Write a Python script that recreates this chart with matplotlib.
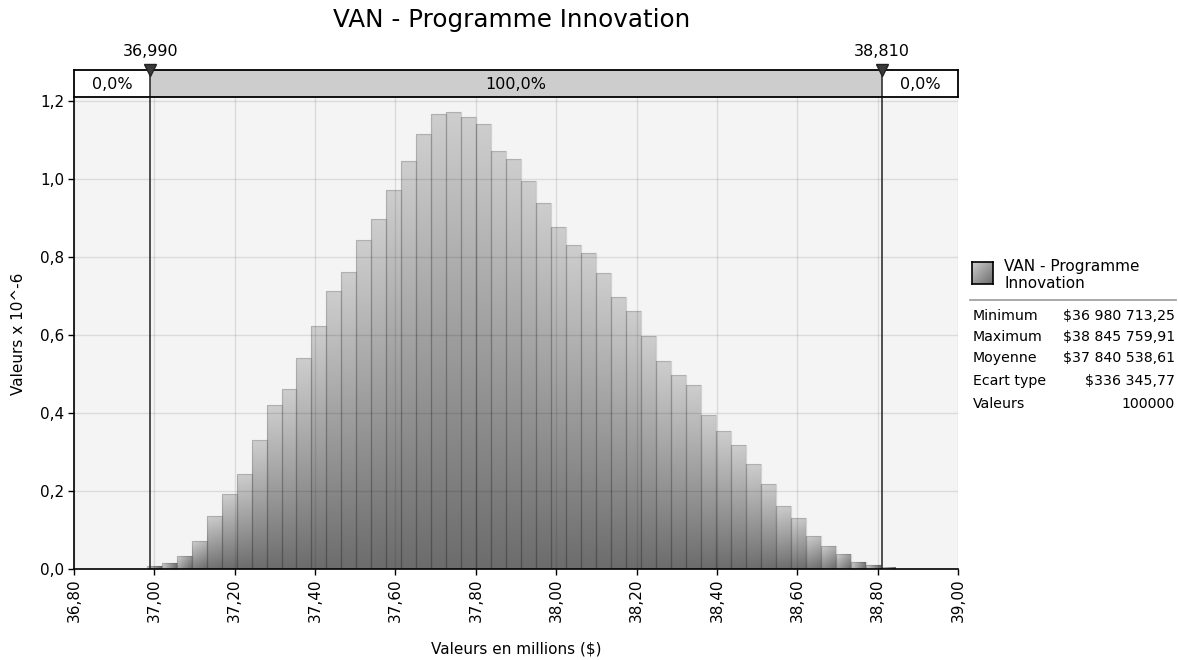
import numpy as np
import matplotlib
matplotlib.use("Agg")
import matplotlib.pyplot as plt
from matplotlib.lines import Line2D

plt.rcParams['font.family'] = ['DejaVu Sans']

# ---- data ----
title = "VAN - Programme Innovation"
x_min_val = 36.9807132
x_max_val = 38.8457599
n_bins = 50
heights = [0.007, 0.015, 0.032, 0.071, 0.135, 0.192, 0.243, 0.330, 0.420, 0.461,
           0.541, 0.623, 0.713, 0.761, 0.843, 0.897, 0.972, 1.046, 1.115, 1.167,
           1.171, 1.159, 1.141, 1.072, 1.051, 0.995, 0.938, 0.877, 0.831, 0.809,
           0.759, 0.697, 0.661, 0.597, 0.533, 0.497, 0.471, 0.394, 0.353, 0.317,
           0.269, 0.217, 0.161, 0.130, 0.084, 0.058, 0.038, 0.017, 0.009, 0.003]
x_ticks = [36.8, 37.0, 37.2, 37.4, 37.6, 37.8, 38.0, 38.2, 38.4, 38.6, 38.8, 39.0]
y_ticks = [0.0, 0.2, 0.4, 0.6, 0.8, 1.0, 1.2]
left_marker = 36.990
right_marker = 38.810
band_labels = ["0,0%", "100,0%", "0,0%"]
stat_names = ["Minimum", "Maximum", "Moyenne", "Ecart type", "Valeurs"]
stat_values = ["$36 980 713,25", "$38 845 759,91", "$37 840 538,61", "$336 345,77", "100000"]
legend_label = "VAN - Programme\nInnovation"

W, H = 1178, 660
fig = plt.figure(figsize=(W / 100, H / 100), dpi=100)

def fx(px):
    return px / W

def fy(py):
    return 1 - py / H

# main axes
ax_l, ax_r, ax_t, ax_b = 74, 958, 98, 568.7
ax = fig.add_axes([fx(ax_l), fy(ax_b), (ax_r - ax_l) / W, (ax_b - ax_t) / H])
ax.set_facecolor('#f4f4f4')
ax.set_xlim(36.8, 39.0)
ax.set_ylim(0, 1.208)
px_per_x = (ax_r - ax_l) / 2.2
px_per_y = (ax_b - ax_t) / 1.208

edges = np.linspace(x_min_val, x_max_val, n_bins + 1)
c_top = np.array([0xce, 0xce, 0xce]) / 255
c_bot = np.array([0x6c, 0x6c, 0x6c]) / 255
for i, h in enumerate(heights):
    x0, x1 = edges[i], edges[i + 1]
    wpx = (x1 - x0) * px_per_x
    hpx = max(h * px_per_y, 1.0)
    nx = 16
    ny = max(2, int(hpx) + 1)
    xx = np.linspace(0, wpx, nx)[None, :]
    yy = np.linspace(0, hpx, ny)[:, None]
    t = (xx * wpx + yy * hpx) / (wpx ** 2 + hpx ** 2)
    t = np.clip(t, 0, 1)
    img = c_top[None, None, :] * (1 - t[..., None]) + c_bot[None, None, :] * t[..., None]
    ax.imshow(img, extent=(x0, x1, 0, h), origin='upper', aspect='auto',
              interpolation='bilinear', zorder=2)
ax.bar(edges[:-1], heights, width=np.diff(edges), align='edge', fill=False,
       edgecolor=(0, 0, 0, 0.14), linewidth=0.9, zorder=2.2)
ax.set_xlim(36.8, 39.0)
ax.set_ylim(0, 1.208)

ax.set_xticks(x_ticks)
ax.set_xticklabels([f"{v:.2f}".replace('.', ',') for v in x_ticks], rotation=90, fontsize=11)
ax.set_yticks(y_ticks)
ax.set_yticklabels([f"{v:.1f}".replace('.', ',') for v in y_ticks], fontsize=11)
ax.set_axisbelow(False)
ax.grid(True, color='black', alpha=0.1, linewidth=1)
for s in ['top', 'right']:
    ax.spines[s].set_visible(False)
for s in ['left', 'bottom']:
    ax.spines[s].set_color('black')
    ax.spines[s].set_linewidth(1.2)
    ax.spines[s].set_zorder(5)
ax.tick_params(direction='out', length=4, width=1, colors='black', pad=3)
ax.axvline(left_marker, color='#222222', lw=1.1, zorder=4)
ax.axvline(right_marker, color='#222222', lw=1.1, zorder=4)
ax.set_xlabel("Valeurs en millions ($)", fontsize=11, labelpad=14)
ax.set_ylabel("Valeurs x 10^-6", fontsize=11, labelpad=10)

# top band
band_t, band_b = 70, 97
bax = fig.add_axes([fx(ax_l), fy(band_b), (ax_r - ax_l) / W, (band_b - band_t) / H])
bax.set_xlim(36.8, 39.0)
bax.set_ylim(0, 1)
bax.axvspan(36.8, left_marker, color='white')
bax.axvspan(left_marker, right_marker, color='#cdcdcd')
bax.axvspan(right_marker, 39.0, color='white')
bax.axvline(left_marker, color='#222222', lw=1.1)
bax.axvline(right_marker, color='#222222', lw=1.1)
bax.set_xticks([])
bax.set_yticks([])
for s in bax.spines.values():
    s.set_color('black')
    s.set_linewidth(1.3)
bax.text((36.8 + left_marker) / 2, 0.45, band_labels[0], ha='center', va='center', fontsize=11.5)
bax.text((left_marker + right_marker) / 2, 0.45, band_labels[1], ha='center', va='center', fontsize=11.5)
bax.text((right_marker + 39.0) / 2, 0.45, band_labels[2], ha='center', va='center', fontsize=11.5)
for m in (left_marker, right_marker):
    bax.plot([m], [1.0], marker='v', markersize=9, color='#3a3a3a', mec='#222222',
             clip_on=False, zorder=5)
    bax.text(m, 1.4, f"{m:.3f}".replace('.', ','), ha='center', va='bottom', fontsize=11.5)

# title
fig.text(fx(512), fy(20), title, ha='center', va='center', fontsize=17.7)

# legend panel
lax = fig.add_axes([fx(972), fy(284), 21 / W, 22 / H])
grad = np.linspace(0, 1, 32)
tt = (grad[None, :] + grad[:, None]) / 2
limg = c_top[None, None, :] * (1 - tt[..., None]) + c_bot[None, None, :] * tt[..., None]
lax.imshow(limg, aspect='auto', extent=(0, 1, 0, 1))
lax.set_xticks([])
lax.set_yticks([])
for s in lax.spines.values():
    s.set_color('black')
    s.set_linewidth(1.2)
fig.text(fx(1004), fy(275), legend_label, ha='left', va='center', fontsize=11, linespacing=1.2)
fig.add_artist(Line2D([fx(970), fx(1176)], [fy(300), fy(300)], color='#999999', lw=1.2))
row_y = [316, 337, 358, 381, 404]
for name, val, yy_ in zip(stat_names, stat_values, row_y):
    fig.text(fx(973), fy(yy_), name, ha='left', va='center', fontsize=10.2)
    fig.text(fx(1175), fy(yy_), val, ha='right', va='center', fontsize=10.2)

fig.savefig("out.png", dpi=100)
